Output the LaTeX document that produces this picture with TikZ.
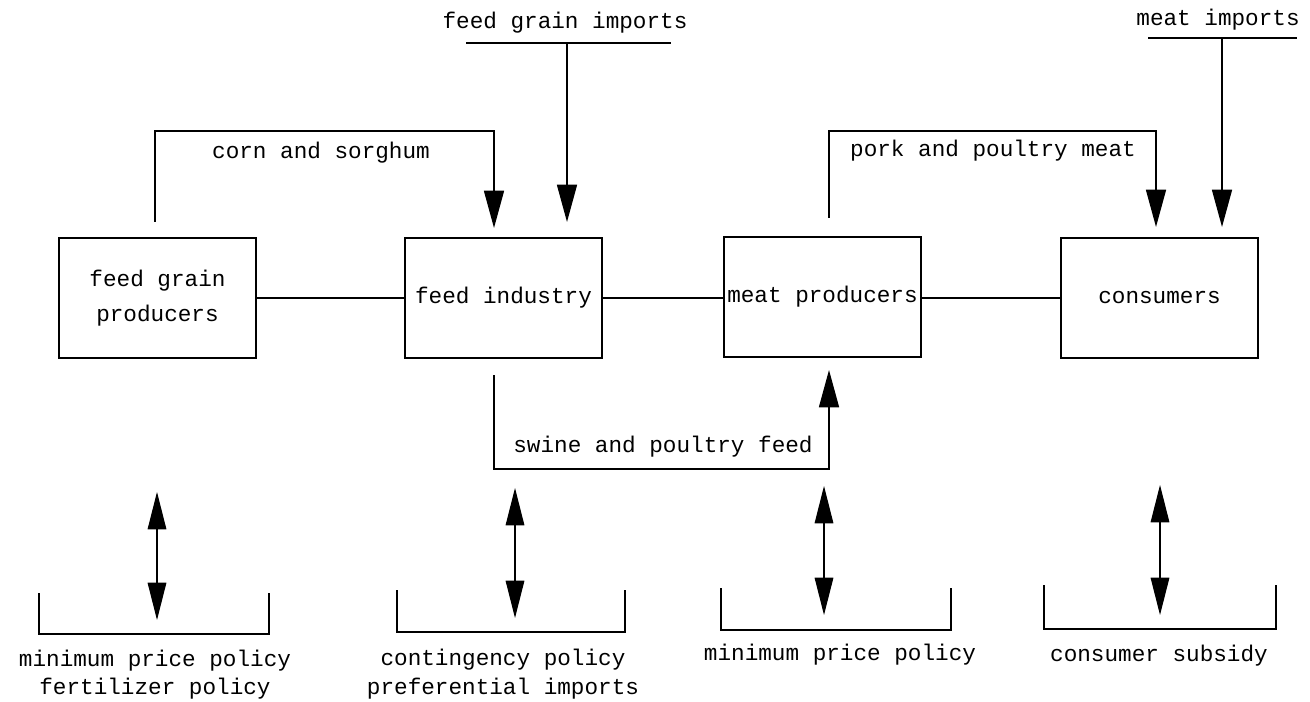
\documentclass[tikz,border=0pt]{standalone}
\usepackage{fontspec}
\setmonofont{Liberation Mono}
\usetikzlibrary{arrows.meta}
\begin{document}
\begin{tikzpicture}[x=0.75pt,y=-0.75pt,
  every node/.style={font=\ttfamily\fontsize{17}{26}\selectfont, inner sep=0pt, align=center},
  box/.style={draw, line width=1.2pt, minimum width=148pt, minimum height=90pt},
  ln/.style={line width=1.2pt},
  arr/.style={line width=1.2pt, -{Triangle[length=28pt,width=15pt]}},
  darr/.style={line width=0.8pt, {Triangle[length=28pt,width=14pt]}-{Triangle[length=28pt,width=14pt]}},
]
\useasboundingbox (0,0) rectangle (1310,702);

% boxes
\node[box] (b1) at (157.5,298) {feed grain\\producers};
\node[box] (b2) at (503.5,298) {feed industry};
\node[box] (b3) at (822.5,297) {meat producers};
\node[box] (b4) at (1159.5,298) {consumers};

\draw[ln] (b1.east) -- (b2.west);
\draw[ln] (b2.east) -- (b3.west |- b2.east);
\draw[ln] (b3.east |- b4.west) -- (b4.west);

% corn and sorghum
\coordinate (cs0) at (155,222);
\coordinate (cs1) at (494,228);
\draw[arr] (cs0) -- (155,131) -- (494,131) -- (cs1);
\node (cslab) at (321,153) {corn and sorghum};

% feed grain imports
\node (fgi) at (565,23) {feed grain imports};
\coordinate (fgiL) at (466,43);
\coordinate (fgiR) at (671,43);
\coordinate (fgiM) at (567,43);
\coordinate (fgiE) at (567,222);
\draw[ln] (fgiL) -- (fgiR);
\draw[arr] (fgiM) -- (fgiE);

% pork and poultry meat
\coordinate (pp0) at (829,218);
\coordinate (pp1) at (1156,227);
\draw[arr] (pp0) -- (829,131) -- (1156,131) -- (pp1);
\node (pplab) at (993,151) {pork and poultry meat};

% meat imports
\node (mi) at (1218,20) {meat imports};
\coordinate (miL) at (1148,38);
\coordinate (miR) at (1297,38);
\coordinate (miM) at (1222,38);
\coordinate (miE) at (1222,227);
\draw[ln] (miL) -- (miR);
\draw[arr] (miM) -- (miE);

% swine and poultry feed
\coordinate (sp0) at (494,375);
\coordinate (sp1) at (829,370);
\draw[arr] (sp0) -- (494,469) -- (829,469) -- (sp1);
\node (splab) at (663,447) {swine and poultry feed};

% policy arrows
\coordinate (d1t) at (157,492); \coordinate (d1b) at (157,620);
\coordinate (d2t) at (515,488); \coordinate (d2b) at (515,618);
\coordinate (d3t) at (824,486); \coordinate (d3b) at (824,615);
\coordinate (d4t) at (1160,485); \coordinate (d4b) at (1160,615);
\draw[darr] (d1t) -- (d1b);
\draw[darr] (d2t) -- (d2b);
\draw[darr] (d3t) -- (d3b);
\draw[darr] (d4t) -- (d4b);

% brackets
\draw[line width=0.9pt] (39,593) -- (39,634) -- (269,634) -- (269,593);
\draw[line width=0.9pt] (397,590) -- (397,632) -- (625,632) -- (625,590);
\draw[line width=0.9pt] (721,588) -- (721,630) -- (951,630) -- (951,588);
\draw[line width=0.9pt] (1044,585) -- (1044,629) -- (1276,629) -- (1276,585);

% policy texts
\node (p1a) at (155,661) {minimum price policy};
\node (p1b) at (155,689) {fertilizer policy};
\node (p2a) at (503,660) {contingency policy};
\node (p2b) at (503,689) {preferential imports};
\node (p3) at (840,655) {minimum price policy};
\node (p4) at (1159,656) {consumer subsidy};
\end{tikzpicture}
\end{document}
